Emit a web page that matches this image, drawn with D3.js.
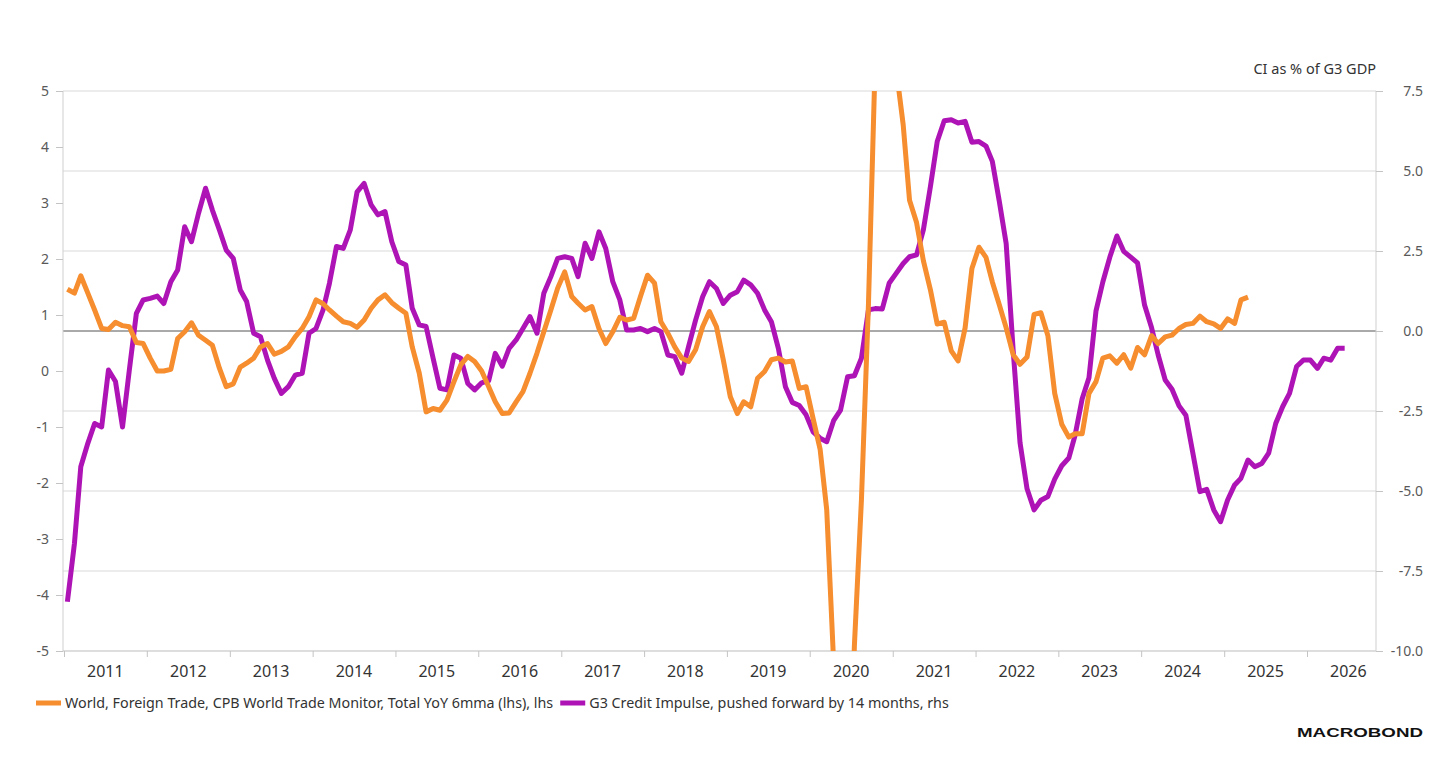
<!DOCTYPE html>
<html>
<head>
<meta charset="utf-8">
<script src="https://cdn.jsdelivr.net/npm/d3@7"></script>
<style>
  html, body { margin: 0; padding: 0; background: #fff; }
  svg { display: block; font-family: "Noto Sans", sans-serif; }
</style>
</head>
<body>
<svg width="1456" height="784"></svg>
<script>
// monthly data, first point Jan 2011
var tradeYoY = [
  1.46, 1.39, 1.70, 1.39, 1.09, 0.76, 0.74, 0.87, 0.81, 0.79, 0.51, 0.49,
  0.23, 0.00, 0.00, 0.03, 0.58, 0.70, 0.86, 0.64, 0.55, 0.46, 0.05, -0.28,
  -0.23, 0.07, 0.14, 0.23, 0.43, 0.49, 0.30, 0.35, 0.43, 0.61, 0.76, 0.97,
  1.27, 1.20, 1.09, 0.98, 0.88, 0.85, 0.78, 0.91, 1.12, 1.27, 1.36, 1.22,
  1.12, 1.03, 0.43, -0.04, -0.73, -0.67, -0.70, -0.52, -0.19, 0.11, 0.26, 0.17,
  0.00, -0.28, -0.55, -0.76, -0.75, -0.55, -0.37, -0.04, 0.32, 0.70, 1.09, 1.48,
  1.77, 1.33, 1.21, 1.09, 1.15, 0.76, 0.49, 0.70, 0.96, 0.91, 0.94, 1.33,
  1.71, 1.57, 0.88, 0.67, 0.43, 0.23, 0.17, 0.38, 0.79, 1.06, 0.79, 0.20,
  -0.46, -0.76, -0.55, -0.64, -0.13, -0.01, 0.20, 0.23, 0.16, 0.18, -0.31, -0.28,
  -0.85, -1.40, -2.48, -5.25, -9.5, -8.5, -4.9, -2.3, 1.2, 5.6, 11.5, 9.0,
  5.4, 4.4, 3.05, 2.65, 1.97, 1.45, 0.84, 0.87, 0.36, 0.18, 0.77, 1.83,
  2.21, 2.03, 1.59, 1.18, 0.77, 0.29, 0.12, 0.25, 1.01, 1.04, 0.63, -0.40,
  -0.95, -1.18, -1.12, -1.12, -0.40, -0.19, 0.23, 0.27, 0.14, 0.29, 0.05, 0.42,
  0.29, 0.63, 0.49, 0.61, 0.64, 0.76, 0.83, 0.85, 0.98, 0.88, 0.84, 0.76,
  0.93, 0.85, 1.27, 1.32
];

var creditImpulse = [
  -8.46, -6.64, -4.24, -3.51, -2.89, -3.00, -1.22, -1.58, -3.00, -1.22, 0.55, 0.97,
  1.02, 1.09, 0.86, 1.54, 1.91, 3.26, 2.79, 3.68, 4.46, 3.78, 3.16, 2.53,
  2.27, 1.28, 0.92, -0.07, -0.18, -0.91, -1.48, -1.95, -1.74, -1.38, -1.32, -0.07,
  0.08, 0.66, 1.49, 2.64, 2.58, 3.16, 4.35, 4.61, 3.94, 3.63, 3.73, 2.79,
  2.17, 2.06, 0.71, 0.19, 0.14, -0.85, -1.79, -1.84, -0.75, -0.85, -1.64, -1.84,
  -1.62, -1.55, -0.70, -1.10, -0.54, -0.28, 0.08, 0.45, -0.07, 1.18, 1.70, 2.27,
  2.32, 2.27, 1.70, 2.74, 2.27, 3.10, 2.58, 1.54, 0.97, 0.03, 0.03, 0.08,
  -0.02, 0.08, -0.02, -0.75, -0.80, -1.32, -0.49, 0.34, 1.07, 1.54, 1.33, 0.86,
  1.12, 1.23, 1.59, 1.44, 1.18, 0.66, 0.29, -0.55, -1.74, -2.23, -2.33, -2.62,
  -3.15, -3.35, -3.46, -2.79, -2.47, -1.43, -1.40, -0.85, 0.66, 0.70, 0.69, 1.49,
  1.80, 2.11, 2.32, 2.38, 3.16, 4.51, 5.92, 6.57, 6.60, 6.50, 6.55, 5.90,
  5.92, 5.78, 5.30, 4.04, 2.73, -0.62, -3.49, -4.93, -5.59, -5.29, -5.17, -4.63,
  -4.21, -3.97, -3.25, -2.12, -1.46, 0.63, 1.53, 2.31, 2.97, 2.49, 2.31, 2.13,
  0.81, 0.10, -0.75, -1.53, -1.82, -2.34, -2.63, -3.82, -5.02, -4.95, -5.59, -5.96,
  -5.28, -4.81, -4.60, -4.03, -4.24, -4.14, -3.82, -2.89, -2.36, -1.95, -1.11, -0.91,
  -0.91, -1.17, -0.85, -0.91, -0.54, -0.54
];

var years = [2011, 2012, 2013, 2014, 2015, 2016, 2017, 2018, 2019, 2020, 2021, 2022, 2023, 2024, 2025, 2026];
var leftTicks = [-5, -4, -3, -2, -1, 0, 1, 2, 3, 4, 5];
var rightTicks = [-10, -7.5, -5, -2.5, 0, 2.5, 5, 7.5];

var seriesNames = [
  'World, Foreign Trade, CPB World Trade Monitor, Total YoY 6mma (lhs), lhs',
  'G3 Credit Impulse, pushed forward by 14 months, rhs'
];
var rightTitle = 'CI as % of G3 GDP';

(function(){
  'use strict';

  var plot = { left: 63, right: 1376, top: 91, bottom: 651 };
  var colors = { trade: '#F68D2E', credit: '#AE14B5' };

  var svg = d3.select('svg');
  var locale = d3.formatLocale({ decimal: '.', thousands: ',', grouping: [3], currency: ['', ''], minus: '-' });

  var x = d3.scaleTime()
    .domain([new Date(2011, 0, 1), new Date(2026, 0, 1)])
    .range([64, 1307]);

  var yLeft = d3.scaleLinear().domain([-5, 5]).range([plot.bottom, plot.top]);
  var yRight = d3.scaleLinear().domain([-10, 7.5]).range([plot.bottom, plot.top]);

  function toPoints(values) {
    return values.map(function(v, i) {
      return { date: new Date(2011, i, 16), value: v };
    });
  }

  // gridlines from the right axis
  svg.append('g')
    .selectAll('line')
    .data(rightTicks)
    .enter()
    .append('line')
    .attr('x1', plot.left)
    .attr('x2', plot.right)
    .attr('y1', function(d) { return yRight(d); })
    .attr('y2', function(d) { return yRight(d); })
    .attr('stroke', function(d) { return d === 0 ? '#555' : '#d9d9d9'; })
    .attr('stroke-width', 1);

  // axis lines
  svg.append('line')
    .attr('x1', plot.left).attr('x2', plot.left)
    .attr('y1', plot.top).attr('y2', plot.bottom)
    .attr('stroke', '#cfcfcf');
  svg.append('line')
    .attr('x1', plot.right).attr('x2', plot.right)
    .attr('y1', plot.top).attr('y2', plot.bottom)
    .attr('stroke', '#cfcfcf');
  svg.append('line')
    .attr('x1', plot.left).attr('x2', plot.right)
    .attr('y1', plot.bottom).attr('y2', plot.bottom)
    .attr('stroke', '#cfcfcf');

  var leftAxis = svg.append('g')
    .attr('transform', 'translate(' + [plot.left, 0] + ')')
    .call(d3.axisLeft(yLeft).tickValues(leftTicks).tickSize(7).tickPadding(7).tickFormat(locale.format('d')));

  var rightAxis = svg.append('g')
    .attr('transform', 'translate(' + [plot.right, 0] + ')')
    .call(d3.axisRight(yRight).tickValues(rightTicks).tickSize(7).tickFormat(locale.format('.1f')));

  var bottomAxis = svg.append('g')
    .attr('transform', 'translate(' + [0, plot.bottom] + ')')
    .call(d3.axisBottom(x)
      .tickValues(years.map(function(y) { return new Date(y, 0, 1); }))
      .tickSize(6)
      .tickFormat(''));

  [leftAxis, rightAxis, bottomAxis].forEach(function(g) {
    g.select('.domain').remove();
    g.selectAll('.tick line').attr('stroke', '#c4c4c4');
    g.selectAll('.tick text')
      .attr('fill', '#595959')
      .style('font-size', '14px')
      .style('font-family', '"Noto Sans", sans-serif');
  });

  rightAxis.selectAll('.tick text')
    .attr('text-anchor', 'end')
    .attr('x', 47);

  svg.append('g')
    .selectAll('text')
    .data(years)
    .enter()
    .append('text')
    .attr('x', function(y) { return x(new Date(y, 6, 2)); })
    .attr('y', 671)
    .attr('dy', '0.35em')
    .attr('text-anchor', 'middle')
    .attr('fill', '#333')
    .style('font-size', '16px')
    .text(function(y) { return y; });

  svg.append('text')
    .attr('x', plot.right)
    .attr('y', 69)
    .attr('dy', '0.35em')
    .attr('text-anchor', 'end')
    .attr('fill', '#333')
    .style('font-size', '14.5px')
    .text(rightTitle);

  // lines
  svg.append('clipPath')
    .attr('id', 'plot-clip')
    .append('rect')
    .attr('x', plot.left)
    .attr('y', plot.top)
    .attr('width', plot.right - plot.left)
    .attr('height', plot.bottom - plot.top);

  var lineRight = d3.line()
    .x(function(d) { return x(d.date); })
    .y(function(d) { return yRight(d.value); });
  var lineLeft = d3.line()
    .x(function(d) { return x(d.date); })
    .y(function(d) { return yLeft(d.value); });

  var lines = svg.append('g').attr('clip-path', 'url(#plot-clip)');

  lines.append('path')
    .datum(toPoints(creditImpulse))
    .attr('d', lineRight)
    .attr('fill', 'none')
    .attr('stroke', colors.credit)
    .attr('stroke-width', 5)
    .attr('stroke-linejoin', 'round');

  lines.append('path')
    .datum(toPoints(tradeYoY))
    .attr('d', lineLeft)
    .attr('fill', 'none')
    .attr('stroke', colors.trade)
    .attr('stroke-width', 5)
    .attr('stroke-linejoin', 'round');

  // legend
  var legend = svg.append('g');
  var legendX = 36;
  [colors.trade, colors.credit].forEach(function(c, i) {
    legend.append('rect')
      .attr('x', legendX)
      .attr('y', 700.5)
      .attr('width', 25)
      .attr('height', 5)
      .attr('fill', c);
    var t = legend.append('text')
      .attr('x', legendX + 29)
      .attr('y', 703)
      .attr('dy', '0.35em')
      .attr('fill', '#333')
      .style('font-size', '14.3px')
      .text(seriesNames[i]);
    legendX += 29 + t.node().getComputedTextLength() + 7;
  });

  svg.append('text')
    .attr('x', 1297)
    .attr('y', 737)
    .attr('textLength', 126)
    .attr('lengthAdjust', 'spacingAndGlyphs')
    .attr('fill', '#111')
    .style('font-family', '"Liberation Sans", Arial, sans-serif')
    .style('font-weight', 'bold')
    .style('font-size', '12.5px')
    .text('MACROBOND');
})();
</script>
</body>
</html>
